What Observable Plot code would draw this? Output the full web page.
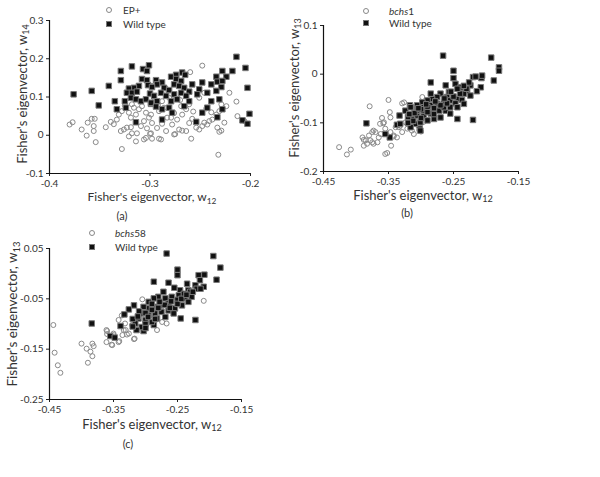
<!DOCTYPE html>
<html><head><meta charset="utf-8">
<script src="https://cdn.jsdelivr.net/npm/d3@7"></script>
<script src="https://cdn.jsdelivr.net/npm/@observablehq/plot@0.6"></script>
<style>
html,body{margin:0;padding:0;background:#fff;}
#root{position:relative;width:600px;height:477px;overflow:hidden;font-family:Lato,"Open Sans",sans-serif;color:#333;}
.panel{position:absolute;}
.lab{position:absolute;white-space:nowrap;transform:translate(-50%,-50%);color:#333;line-height:1;}
.ylab{position:absolute;white-space:nowrap;transform:translate(-50%,-50%) rotate(-90deg);color:#333;line-height:1;}
.lab sub,.ylab sub{font-size:70%;vertical-align:-0.3em;line-height:0;}
.leg{position:absolute;font-size:10px;white-space:nowrap;transform:translateY(-50%);color:#333;line-height:1;}
.mk{position:absolute;box-sizing:border-box;transform:translate(-50%,-50%);}
.mk.c{width:6px;height:6px;border:1px solid #888;border-radius:50%;}
.mk.s{width:6px;height:6px;border:1px solid #777;background:#111;}
</style>
</head><body>
<div id="root"></div>
<script>
// ---------- Panel (a): EP+ vs Wild type, w12 vs w14 ----------
const xTicksA = [-0.4, -0.3, -0.2];
const xTickLabelsA = ["-0.4", "-0.3", "-0.2"];
const yTicksA = [-0.1, 0, 0.1, 0.2, 0.3];
const yTickLabelsA = ["-0.1", "0", "0.1", "0.2", "0.3"];
const epA = [
[-0.380,0.028],[-0.377,0.034],[-0.368,0.015],[-0.362,0.033],[-0.358,0.043],[-0.355,0.043],[-0.356,0.024],[-0.356,0.011],[-0.363,-0.001],[-0.354,-0.018],
[-0.344,0.021],[-0.339,0.035],[-0.336,0.029],[-0.333,0.041],[-0.331,0.054],[-0.328,0.063],[-0.325,0.078],[-0.329,0.011],[-0.326,0.015],[-0.323,0.020],
[-0.319,0.021],[-0.321,-0.003],[-0.328,-0.036],[-0.314,-0.016],[-0.318,0.005],[-0.321,0.059],[-0.316,0.072],[-0.311,0.068],[-0.314,0.054],[-0.308,0.076],
[-0.304,0.059],[-0.306,0.037],[-0.309,0.024],[-0.301,0.046],[-0.304,-0.007],[-0.303,0.018],[-0.313,0.005],[-0.299,0.005],[-0.318,0.081],[-0.319,0.046],
[-0.248,0.182],[-0.299,0.054],[-0.298,0.032],[-0.298,-0.009],[-0.289,-0.011],[-0.293,0.019],[-0.288,0.030],[-0.284,0.011],[-0.283,0.046],[-0.278,0.028],
[-0.275,0.003],[-0.271,0.015],[-0.268,0.012],[-0.273,0.041],[-0.268,0.054],[-0.264,0.068],[-0.269,0.076],[-0.261,0.081],[-0.258,0.043],[-0.259,-0.009],
[-0.254,0.020],[-0.251,0.015],[-0.248,0.024],[-0.246,0.033],[-0.241,0.037],[-0.238,0.041],[-0.234,0.054],[-0.231,0.063],[-0.229,0.081],[-0.224,0.076],
[-0.226,0.033],[-0.233,0.020],[-0.229,0.012],[-0.232,-0.051],[-0.214,0.088],[-0.213,0.050],[-0.251,0.098],[-0.246,0.111],[-0.260,0.165],[-0.281,0.098],
[-0.291,0.063],[-0.296,0.098],[-0.288,0.089],[-0.279,0.046],[-0.261,0.032],[-0.264,0.011],[-0.221,0.111],[-0.231,0.009],[-0.243,0.028],[-0.276,0.002],
[-0.300,0.004],[-0.306,-0.011],[-0.291,-0.009],[-0.286,0.072],[-0.276,0.058],[-0.270,0.092],[-0.292,0.080],[-0.257,0.062],[-0.244,0.070],[-0.239,0.060],
[-0.284,0.122],[-0.298,0.129],[-0.206,0.037]
];
const wtA = [
[-0.376,0.107],[-0.358,0.116],[-0.351,0.078],[-0.341,0.129],[-0.335,0.089],[-0.333,0.068],[-0.329,0.168],[-0.329,0.144],[-0.318,0.180],[-0.307,0.173],
[-0.301,0.183],[-0.303,0.168],[-0.308,0.147],[-0.303,0.144],[-0.302,0.131],[-0.311,0.129],[-0.316,0.124],[-0.321,0.122],[-0.323,0.111],[-0.318,0.111],
[-0.313,0.114],[-0.319,0.098],[-0.314,0.094],[-0.309,0.089],[-0.304,0.094],[-0.325,0.089],[-0.300,0.109],[-0.299,0.082],[-0.324,0.072],[-0.314,0.034],
[-0.294,0.144],[-0.288,0.138],[-0.293,0.133],[-0.279,0.153],[-0.274,0.158],[-0.268,0.164],[-0.265,0.158],[-0.274,0.147],[-0.269,0.142],[-0.276,0.133],
[-0.271,0.129],[-0.266,0.124],[-0.298,0.126],[-0.286,0.124],[-0.281,0.118],[-0.289,0.111],[-0.296,0.103],[-0.284,0.103],[-0.276,0.107],[-0.269,0.111],
[-0.261,0.114],[-0.293,0.089],[-0.299,0.085],[-0.279,0.089],[-0.273,0.094],[-0.281,0.072],[-0.288,0.068],[-0.294,0.075],[-0.278,0.059],[-0.254,0.035],
[-0.288,0.041],[-0.251,0.120],[-0.248,0.138],[-0.253,0.107],[-0.243,0.111],[-0.239,0.133],[-0.234,0.153],[-0.224,0.153],[-0.228,0.168],[-0.218,0.168],
[-0.233,0.140],[-0.228,0.142],[-0.229,0.126],[-0.234,0.116],[-0.239,0.089],[-0.231,0.094],[-0.243,0.072],[-0.228,0.068],[-0.248,0.059],[-0.233,0.047],
[-0.214,0.205],[-0.205,0.176],[-0.203,0.124],[-0.201,0.056],[-0.208,0.039],[-0.203,0.030],[-0.261,0.089],[-0.266,0.076],[-0.264,0.103],[-0.258,0.133]
];

// ---------- Panel (b): bchs1 vs Wild type, w12 vs w13 ----------
const xTicksB = [-0.45, -0.35, -0.25, -0.15];
const xTickLabelsB = ["-0.45", "-0.35", "-0.25", "-0.15"];
const yTicksB = [-0.2, -0.1, 0, 0.1];
const yTickLabelsB = ["-0.2", "-0.1", "0", "0.1"];
const mutB = [
[-0.426,-0.150],[-0.414,-0.165],[-0.408,-0.155],[-0.379,-0.066],[-0.350,-0.053],[-0.348,-0.078],[-0.355,-0.164],[-0.346,-0.147],[-0.360,-0.090],[-0.358,-0.101],
[-0.326,-0.058],[-0.388,-0.147],[-0.385,-0.136],[-0.380,-0.126],[-0.375,-0.119],[-0.367,-0.140],[-0.365,-0.130],[-0.373,-0.143],[-0.378,-0.136],[-0.370,-0.119],
[-0.355,-0.112],[-0.347,-0.119],[-0.339,-0.109],[-0.342,-0.126],[-0.337,-0.130],[-0.332,-0.106],[-0.324,-0.099],[-0.321,-0.112],[-0.311,-0.123],[-0.314,-0.089],
[-0.298,-0.047],[-0.290,-0.054],[-0.363,-0.102],[-0.390,-0.130],[-0.329,-0.060],[-0.357,-0.099],[-0.347,-0.089],[-0.334,-0.109],[-0.329,-0.119],[-0.321,-0.102],
[-0.314,-0.116],[-0.373,-0.116],[-0.388,-0.135],[-0.383,-0.143],[-0.375,-0.140],[-0.362,-0.123],[-0.352,-0.162],[-0.342,-0.128],
[-0.305,-0.105],[-0.296,-0.098],[-0.310,-0.095],[-0.300,-0.118]
];
const wtB = [
[-0.266,0.038],[-0.192,0.034],[-0.180,0.014],[-0.180,0.007],[-0.188,-0.013],[-0.207,-0.008],[-0.220,-0.006],[-0.250,0.007],[-0.250,-0.008],[-0.285,-0.017],
[-0.262,-0.023],[-0.208,-0.027],[-0.220,-0.094],[-0.244,-0.092],[-0.384,-0.101],[-0.317,-0.064],[-0.324,-0.075],[-0.333,-0.085],[-0.337,-0.104],[-0.348,-0.130],
[-0.355,-0.123],[-0.302,-0.112],[-0.247,-0.020],[-0.216,-0.005],[-0.206,-0.003],[-0.224,-0.023],[-0.229,-0.034],[-0.234,-0.040],[-0.239,-0.027],[-0.244,-0.051],
[-0.257,-0.037],[-0.260,-0.047],[-0.270,-0.040],[-0.275,-0.047],[-0.283,-0.051],[-0.290,-0.054],[-0.298,-0.058],[-0.306,-0.064],[-0.296,-0.068],[-0.285,-0.064],
[-0.275,-0.061],[-0.265,-0.058],[-0.255,-0.054],[-0.247,-0.060],[-0.237,-0.053],[-0.262,-0.075],[-0.272,-0.075],[-0.285,-0.081],[-0.296,-0.085],[-0.306,-0.085],
[-0.314,-0.092],[-0.309,-0.102],[-0.301,-0.099],[-0.290,-0.095],[-0.280,-0.092],[-0.270,-0.089],[-0.255,-0.081],[-0.301,-0.116],[-0.316,-0.109],[-0.316,-0.068],
[-0.332,-0.102],[-0.285,-0.040],[-0.226,-0.017],[-0.265,-0.068],[-0.255,-0.068],[-0.244,-0.068],[-0.234,-0.061],[-0.224,-0.044],[-0.214,-0.035],[-0.306,-0.075],
[-0.296,-0.075],[-0.310,-0.080],[-0.300,-0.072],[-0.290,-0.068],[-0.280,-0.070],[-0.270,-0.064],[-0.260,-0.060],[-0.250,-0.046],[-0.240,-0.040],[-0.230,-0.030],
[-0.280,-0.082],[-0.290,-0.078],[-0.300,-0.090],[-0.312,-0.096],[-0.320,-0.088],[-0.320,-0.100],[-0.264,-0.050],[-0.254,-0.036],[-0.244,-0.030],[-0.234,-0.024],
[-0.278,-0.056],[-0.292,-0.062],[-0.304,-0.070],[-0.318,-0.082]
];

// ---------- Panel (c): bchs58 vs Wild type, w12 vs w13 ----------
const xTicksC = [-0.45, -0.35, -0.25, -0.15];
const xTickLabelsC = ["-0.45", "-0.35", "-0.25", "-0.15"];
const yTicksC = [-0.25, -0.15, -0.05, 0.05];
const yTickLabelsC = ["-0.25", "-0.15", "-0.05", "0.05"];
const mutC = [
[-0.444,-0.102],[-0.442,-0.157],[-0.437,-0.182],[-0.433,-0.197],[-0.400,-0.139],[-0.392,-0.149],[-0.390,-0.177],[-0.386,-0.155],[-0.383,-0.139],[-0.383,-0.164],
[-0.381,-0.144],[-0.361,-0.112],[-0.360,-0.120],[-0.361,-0.136],[-0.352,-0.142],[-0.350,-0.122],[-0.342,-0.092],[-0.342,-0.136],[-0.336,-0.122],[-0.331,-0.112],
[-0.326,-0.119],[-0.318,-0.130],[-0.305,-0.051],[-0.282,-0.112],[-0.209,-0.054],[-0.274,-0.096],[-0.313,-0.106],[-0.267,-0.099],[-0.317,-0.129],[-0.329,-0.121],
[-0.334,-0.112],[-0.360,-0.114],[-0.350,-0.119],[-0.353,-0.141],[-0.341,-0.134],[-0.337,-0.083],[-0.332,-0.099],[-0.321,-0.102]
];
const wtC = [
[-0.267,0.040],[-0.194,0.035],[-0.183,0.012],[-0.189,-0.012],[-0.250,0.008],[-0.250,-0.003],[-0.217,-0.003],[-0.208,-0.002],[-0.287,-0.016],[-0.264,-0.018],
[-0.245,-0.089],[-0.222,-0.092],[-0.384,-0.099],[-0.355,-0.124],[-0.348,-0.127],[-0.318,-0.063],[-0.326,-0.071],[-0.333,-0.081],[-0.339,-0.104],[-0.303,-0.114],
[-0.287,-0.102],[-0.215,-0.013],[-0.255,-0.028],[-0.235,-0.020],[-0.222,-0.023],[-0.209,-0.026],[-0.246,-0.033],[-0.233,-0.033],[-0.272,-0.036],[-0.280,-0.046],
[-0.287,-0.049],[-0.295,-0.056],[-0.269,-0.049],[-0.259,-0.046],[-0.248,-0.043],[-0.238,-0.049],[-0.228,-0.046],[-0.264,-0.059],[-0.275,-0.063],[-0.285,-0.066],
[-0.295,-0.069],[-0.303,-0.066],[-0.306,-0.079],[-0.295,-0.083],[-0.285,-0.079],[-0.275,-0.076],[-0.264,-0.073],[-0.254,-0.069],[-0.243,-0.063],[-0.233,-0.056],
[-0.256,-0.079],[-0.269,-0.086],[-0.282,-0.089],[-0.290,-0.096],[-0.300,-0.092],[-0.311,-0.089],[-0.316,-0.099],[-0.306,-0.106],[-0.314,-0.112],
[-0.310,-0.075],[-0.300,-0.078],[-0.290,-0.072],[-0.280,-0.068],[-0.270,-0.062],[-0.260,-0.055],[-0.250,-0.052],[-0.240,-0.040],[-0.230,-0.036],[-0.220,-0.030],
[-0.278,-0.056],[-0.290,-0.060],[-0.300,-0.100],[-0.320,-0.090],[-0.312,-0.085],[-0.296,-0.086],[-0.285,-0.090],[-0.262,-0.068],[-0.250,-0.060],[-0.244,-0.050],
[-0.236,-0.042],[-0.226,-0.036],[-0.214,-0.030],[-0.300,-0.108],[-0.320,-0.105]
];

const FONT = 'Lato, "Open Sans", sans-serif';
const root = document.getElementById("root");

function panel({left, top, width, height, ml, mr, mt, mb, xd, yd, xt, xl, yt, yl, mut, wt}) {
  const fmt = (ticks, labels) => d => labels[ticks.findIndex(t => Math.abs(t - d) < 1e-9)];
  const svg = Plot.plot({
    width, height,
    marginLeft: ml, marginRight: mr, marginTop: mt, marginBottom: mb,
    x: {domain: xd},
    y: {domain: yd},
    style: {fontFamily: FONT, fontSize: "10px", color: "#333", background: "transparent", overflow: "visible"},
    marks: [
      Plot.axisX({ticks: xt, tickFormat: fmt(xt, xl), tickSize: 3, tickPadding: 3, label: null, stroke: "#222"}),
      Plot.axisY({ticks: yt, tickFormat: fmt(yt, yl), tickSize: 3, tickPadding: 3, label: null, stroke: "#222"}),
      Plot.ruleX([xd[0]], {stroke: "#111", strokeWidth: 1.2}),
      Plot.ruleY([yd[0]], {stroke: "#111", strokeWidth: 1.2}),
      Plot.dot(mut, {x: d => d[0], y: d => d[1], symbol: "circle", r: 2.5, stroke: "#8a8a8a", strokeWidth: 1, fill: "none"}),
      Plot.dot(wt, {x: d => d[0], y: d => d[1], symbol: "square", r: 3.1, fill: "#111", stroke: "#7a7a7a", strokeWidth: 1})
    ]
  });
  svg.classList.add("panel");
  svg.style.left = left + "px";
  svg.style.top = top + "px";
  root.appendChild(svg);
}

panel({left: 0, top: 0, width: 290, height: 225, ml: 49, mr: 40, mt: 20, mb: 52,
  xd: [-0.4, -0.2], yd: [-0.1, 0.3], xt: xTicksA, xl: xTickLabelsA, yt: yTicksA, yl: yTickLabelsA, mut: epA, wt: wtA});
panel({left: 290, top: 0, width: 310, height: 225, ml: 33, mr: 82, mt: 25, mb: 54,
  xd: [-0.45, -0.15], yd: [-0.2, 0.1], xt: xTicksB, xl: xTickLabelsB, yt: yTicksB, yl: yTickLabelsB, mut: mutB, wt: wtB});
panel({left: 0, top: 230, width: 300, height: 247, ml: 49, mr: 59, mt: 18, mb: 78,
  xd: [-0.45, -0.15], yd: [-0.25, 0.05], xt: xTicksC, xl: xTickLabelsC, yt: yTicksC, yl: yTickLabelsC, mut: mutC, wt: wtC});

function html(cls, x, y, inner, size) {
  const d = document.createElement("div");
  d.className = cls;
  d.style.left = x + "px";
  d.style.top = y + "px";
  if (size) d.style.fontSize = size + "px";
  d.innerHTML = inner;
  root.appendChild(d);
}
// axis titles
html("lab", 152, 197, "Fisher's eigenvector, w<sub>12</sub>", 12);
html("ylab", 22, 94, "Fisher's eigenvector, w<sub>14</sub>", 13);
html("lab", 423, 195, "Fisher's eigenvector, w<sub>12</sub>", 13);
html("ylab", 294, 88, "Fisher's eigenvector, w<sub>13</sub>", 13);
html("lab", 152, 424, "Fisher's eigenvector, w<sub>12</sub>", 13);
html("ylab", 13, 314, "Fisher's eigenvector, w<sub>13</sub>", 13.5);
// panel letters
html("lab", 122, 215, "(a)", 11);
html("lab", 407, 212, "(b)", 11);
html("lab", 128, 443, "(c)", 11);
// legends
html("mk c", 109, 10, "");
html("leg", 123, 10, "EP+");
html("mk s", 109, 24, "");
html("leg", 123, 24, "Wild type");
html("mk c", 366, 11, "");
html("leg", 389, 11, "<i>bchs</i>1");
html("mk s", 366, 23, "");
html("leg", 389, 23, "Wild type");
html("mk c", 92, 233, "");
html("leg", 115, 233, "<i>bchs</i>58");
html("mk s", 92, 247, "");
html("leg", 115, 247, "Wild type");
</script>
</body></html>
